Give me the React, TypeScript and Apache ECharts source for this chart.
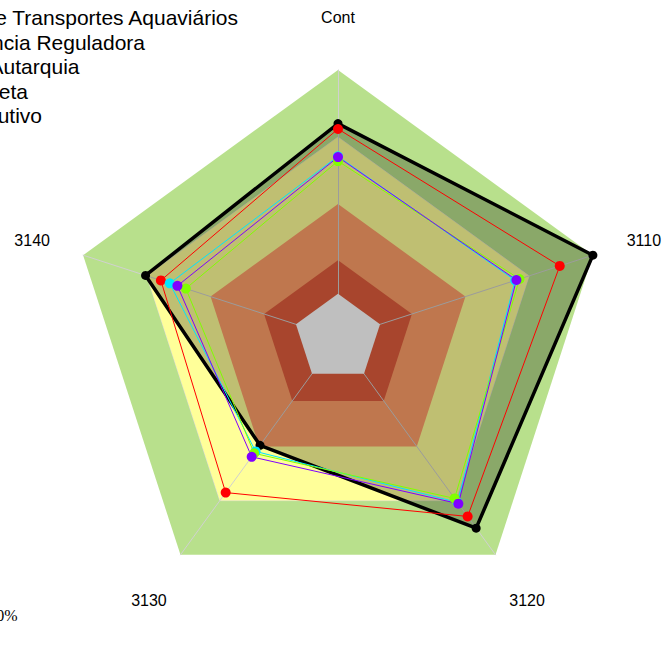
import React, { useEffect, useRef } from "react";
import * as echarts from "echarts";

// Axes, in clockwise order from the top
const categories = ["Cont", "3110", "3120", "3130", "3140"];

// Background bands (outer edge of each band, as a share of the axis maximum)
const bandLevels = [1, 0.75, 0.5, 0.29, 0.165];
const bandColors = ["#b8e08c", "#ffff99", "#ff9f68", "#e05c3c", "#ffffff"];

// Series values, in the same order as categories
const metaValues = [0.8, 1.0, 0.877, 0.495, 0.755];
const antaqValues = [0.78, 0.87, 0.823, 0.713, 0.695];
const reguladoraValues = [0.678, 0.695, 0.758, 0.523, 0.66];
const executivoValues = [0.66, 0.712, 0.74, 0.532, 0.597];
const autarquiaValues = [0.675, 0.7, 0.764, 0.548, 0.63];

const legendTexts = [
  "Agência Nacional de Transportes Aquaviários",
  "Agência Reguladora",
  "Autarquia",
  "Meta",
  "Poder Executivo",
];
const footnote = "100%";

const CX = 338;
const CY = 338;
const R = 268;

// ECharts lays indicators counter-clockwise from the top
const ecOrder = [0, 4, 3, 2, 1];
const toEc = (arr: any[]) => ecOrder.map((i) => arr[i]);

export default function App() {
  const ref = useRef<HTMLDivElement>(null);
  useEffect(() => {
    if (!ref.current) return;
    const chart = echarts.init(ref.current, null, { renderer: "svg" });

    const bandSeries: any[] = bandLevels.map((lvl, k) => ({
      type: "radar",
      silent: true,
      z: k === bandLevels.length - 1 ? 3 : 1,
      symbol: "none",
      lineStyle:
        k === 1
          ? { width: 1, color: "#d8d8d8" }
          : { width: 0, opacity: 0 },
      areaStyle: { color: bandColors[k], opacity: 1 },
      data: [{ value: categories.map(() => lvl) }],
    }));

    const lineSeries = (
      name: string,
      vals: number[],
      color: string,
      width: number,
      size: number,
      z: number,
      area?: string
    ) => ({
      type: "radar",
      name,
      z,
      symbol: "circle",
      symbolSize: size,
      itemStyle: { color },
      lineStyle: { color, width },
      areaStyle: area ? { color: area, opacity: 1 } : undefined,
      data: [{ value: toEc(vals), name }],
    });

    const labelTexts = categories.map((c, i) => {
      const a = ((90 - 72 * i) * Math.PI) / 180;
      return {
        type: "text",
        x: CX + 1.2 * R * Math.cos(a),
        y: CY - 1.2 * R * Math.sin(a) + (i === 0 ? 1 : 2),
        z: 20,
        style: {
          text: c,
          fontFamily: "Liberation Sans, Arial, sans-serif",
          fontSize: 16,
          fill: "#000",
          align: "center",
          verticalAlign: "middle",
        },
      };
    });

    const legendRight = [238, 145, 79.5, 28, 42];
    const legendGraphics = legendTexts.map((t, i) => ({
      type: "text",
      x: legendRight[i],
      y: 17.5 + 24.5 * i,
      z: 20,
      style: {
        text: t,
        fontFamily: "Liberation Sans, Arial, sans-serif",
        fontSize: 21,
        fill: "#000",
        align: "right",
        verticalAlign: "middle",
      },
    }));

    chart.setOption({
      animation: false,
      backgroundColor: "#ffffff",
      radar: {
        center: [CX, CY],
        radius: R,
        startAngle: 90,
        shape: "polygon",
        splitNumber: 1,
        z: 2,
        indicator: toEc(categories).map((n: any) => ({
          name: n,
          min: 0,
          max: 1,
        })),
        axisName: { show: false },
        axisLine: { lineStyle: { color: "#d0d0d0", width: 1 } },
        axisTick: { show: false },
        axisLabel: { show: false },
        splitLine: { show: false },
        splitArea: { show: false },
      },
      series: [
        ...bandSeries,
        lineSeries("Meta", metaValues, "#000000", 3.5, 9, 4, "rgba(0,0,0,0.25)"),
        lineSeries(legendTexts[0], antaqValues, "#ff0000", 1, 10, 5),
        lineSeries(legendTexts[1], reguladoraValues, "#00e5ff", 1, 10, 5),
        lineSeries(legendTexts[4], executivoValues, "#80ff00", 1, 10, 5),
        lineSeries(legendTexts[2], autarquiaValues, "#8000ff", 1, 10, 5),
      ],
      graphic: [
        ...labelTexts,
        ...legendGraphics,
        {
          type: "text",
          x: 17.5,
          y: 615.5,
          z: 20,
          style: {
            text: footnote,
            fontFamily: "Liberation Serif, Times New Roman, serif",
            fontSize: 16,
            fill: "#000",
            align: "right",
            verticalAlign: "middle",
          },
        },
      ],
    });
    return () => chart.dispose();
  }, []);

  return (
    <div
      ref={ref}
      style={{ position: "fixed", left: 0, top: 0, width: 666, height: 666 }}
    />
  );
}
